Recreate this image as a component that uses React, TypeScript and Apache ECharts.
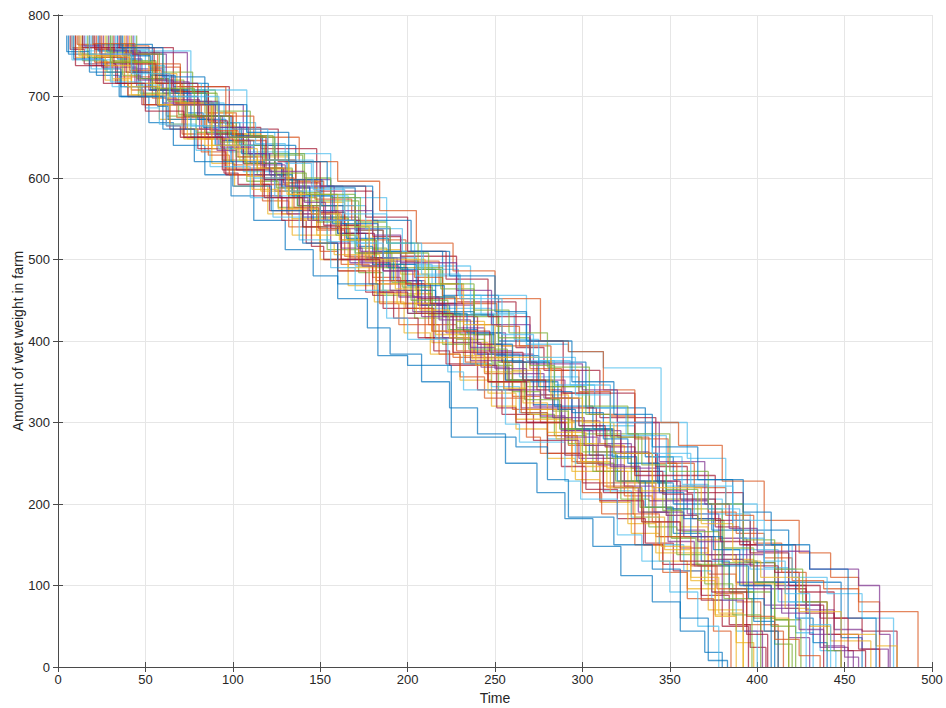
import React, { useEffect, useRef } from "react";
import * as echarts from "echarts";

// ---- Data ----
const xTicks = [0, 50, 100, 150, 200, 250, 300, 350, 400, 450, 500];
const yTicks = [0, 100, 200, 300, 400, 500, 600, 700, 800];
const START_LEVEL = 775;
const colors = ["#0072BD", "#D95319", "#EDB120", "#7E2F8E", "#77AC30", "#4DBEEE", "#A2142F"];

// each run: [time of drop, level after drop]
const run01 = [[6,752],[22,726],[35,700],[52,668],[66,640],[84,604],[99,578],[112,548],[130,512],[146,480],[160,452],[177,416],[190,384],[208,350],[224,318],[240,286],[256,250],[274,214],[290,182],[306,148],[322,112],[340,80],[356,44],[370,18],[380,0]];
const run02 = [[8,760],[38,712],[50,690],[82,632],[96,612],[128,556],[162,494],[178,470],[210,404],[226,380],[260,316],[294,252],[310,226],[342,160],[376,90],[392,52],[412,0]];
const run03 = [[10,748],[27,720],[40,702],[58,672],[72,648],[88,618],[101,590],[120,556],[134,530],[150,500],[166,468],[181,448],[198,410],[213,384],[230,352],[248,320],[262,292],[280,256],[296,230],[310,202],[328,164],[344,130],[360,96],[376,64],[388,30],[398,0]];
const run04 = [[12,762],[44,716],[60,692],[92,640],[124,584],[140,552],[172,498],[206,444],[222,410],[256,352],[290,290],[306,264],[338,204],[372,138],[388,104],[418,36],[430,0]];
const run05 = [[14,744],[28,730],[46,700],[62,676],[76,650],[94,622],[108,596],[126,564],[140,540],[154,512],[172,484],[186,456],[204,428],[220,396],[236,372],[252,340],[268,310],[284,284],[302,250],[318,220],[334,190],[350,160],[366,124],[384,92],[398,60],[410,28],[420,0]];
const run06 = [[16,756],[50,708],[84,656],[98,632],[132,578],[166,520],[182,494],[214,440],[248,384],[264,356],[298,296],[330,240],[348,206],[380,144],[412,80],[436,20],[445,0]];
const run07 = [[18,738],[34,716],[48,690],[64,660],[80,636],[96,604],[112,578],[128,548],[142,520],[160,486],[176,460],[192,428],[206,404],[222,372],[240,340],[254,310],[272,278],[288,246],[302,218],[320,182],[336,152],[352,118],[368,88],[384,52],[396,24],[405,0]];
const run08 = [[20,764],[54,716],[86,668],[104,640],[136,588],[170,536],[186,510],[220,456],[252,400],[270,374],[302,318],[336,258],[352,230],[386,168],[418,104],[448,36],[460,0]];
const run09 = [[22,750],[36,724],[54,698],[68,674],[84,648],[100,616],[116,592],[132,562],[148,536],[164,504],[180,478],[196,446],[212,420],[228,388],[244,360],[260,332],[276,300],[292,272],[308,240],[324,210],[340,178],[356,146],[372,114],[388,80],[402,44],[415,0]];
const run10 = [[24,742],[56,690],[88,636],[102,610],[134,550],[166,490],[182,458],[214,398],[246,336],[262,304],[294,240],[326,176],[342,140],[372,70],[392,0]];
const run11 = [[26,760],[42,734],[60,704],[76,676],[94,646],[110,618],[128,588],[144,560],[160,532],[178,502],[194,474],[210,446],[228,416],[244,388],[260,360],[278,330],[294,302],[310,274],[328,244],[344,216],[360,188],[378,158],[394,128],[410,100],[428,70],[444,46],[460,22],[475,0]];
const run12 = [[28,754],[58,708],[90,654],[108,628],[140,572],[172,514],[188,490],[220,432],[252,374],[268,344],[300,286],[332,226],[348,194],[380,128],[410,58],[425,0]];
const run13 = [[30,740],[46,714],[60,690],[76,664],[92,636],[106,608],[124,578],[138,552],[154,522],[170,492],[186,462],[200,434],[216,404],[232,372],[248,344],[264,312],[280,280],[296,250],[312,216],[328,184],[344,150],[358,118],[374,82],[388,44],[400,0]];
const run14 = [[32,760],[66,712],[98,662],[116,636],[148,584],[180,528],[196,504],[228,448],[262,392],[278,364],[310,306],[342,246],[360,214],[392,150],[422,76],[438,0]];
const run15 = [[34,746],[48,722],[64,700],[80,672],[96,646],[112,618],[128,590],[144,560],[160,532],[176,502],[192,474],[208,444],[224,414],[240,384],[256,352],[272,322],[288,292],[304,260],[320,228],[336,196],[352,164],[368,130],[384,96],[398,56],[410,0]];
const run16 = [[36,762],[52,736],[70,706],[86,680],[102,652],[120,622],[136,596],[152,566],[170,536],[186,508],[204,478],[220,452],[238,420],[254,394],[270,366],[288,336],[304,310],[320,282],[338,250],[354,222],[372,190],[388,164],[404,134],[420,106],[438,96],[458,68],[492,0]];
const run17 = [[38,752],[52,728],[68,706],[84,680],[100,654],[116,626],[132,598],[148,570],[164,542],[180,512],[196,482],[212,454],[228,424],[244,394],[260,364],[276,334],[292,302],[308,272],[324,240],[340,206],[356,172],[372,138],[388,102],[404,60],[418,0]];
const run18 = [[40,754],[74,690],[106,630],[124,598],[156,538],[190,474],[206,444],[238,384],[272,320],[288,290],[322,228],[354,168],[370,138],[404,76],[436,24],[452,0]];
const run19 = [[42,744],[56,720],[72,694],[88,668],[102,640],[118,612],[134,582],[150,552],[166,524],[182,494],[198,462],[212,432],[228,402],[244,370],[260,338],[276,306],[292,274],[306,240],[322,206],[338,172],[354,138],[370,102],[386,64],[402,0]];
const run20 = [[44,756],[76,708],[108,656],[124,630],[156,576],[188,520],[204,492],[236,434],[268,376],[284,346],[316,284],[348,222],[364,188],[396,120],[422,42],[432,0]];
const run21 = [[7,758],[15,740],[33,716],[40,700],[62,664],[70,650],[95,606],[103,592],[121,560],[145,516],[152,500],[180,456],[186,440],[215,388],[224,370],[251,318],[262,300],[280,262],[300,226],[310,204],[335,150],[346,126],[368,82],[380,50],[395,0]];
const run22 = [[9,746],[26,734],[36,712],[57,688],[63,672],[90,640],[99,620],[118,598],[137,566],[146,548],[171,516],[180,494],[205,462],[216,436],[238,408],[250,382],[275,344],[284,320],[306,292],[318,262],[343,226],[352,200],[374,168],[392,130],[400,104],[422,60],[432,30],[440,0]];
const run23 = [[11,764],[21,742],[42,708],[49,690],[71,654],[86,628],[98,604],[117,572],[132,540],[150,510],[160,486],[184,446],[195,420],[218,384],[230,356],[244,330],[268,282],[276,262],[300,214],[311,188],[330,150],[346,116],[360,84],[375,44],[385,0]];
const run24 = [[13,752],[31,722],[42,702],[64,666],[74,648],[97,610],[111,586],[126,562],[150,520],[158,506],[184,462],[194,446],[216,408],[232,382],[244,362],[266,324],[280,300],[296,274],[314,244],[330,216],[348,186],[366,156],[380,132],[398,102],[416,72],[430,50],[442,32],[465,0]];
const run25 = [[15,762],[25,736],[45,712],[56,690],[73,660],[91,634],[102,610],[122,576],[131,556],[156,520],[167,496],[190,462],[203,436],[220,404],[236,376],[255,340],[265,318],[288,278],[298,256],[318,220],[332,190],[349,154],[364,124],[380,82],[392,44],[403,0]];
const run26 = [[17,748],[37,726],[47,704],[69,678],[79,656],[102,626],[114,604],[132,576],[148,546],[162,524],[182,490],[197,466],[214,434],[230,408],[248,374],[258,352],[283,314],[292,292],[314,256],[328,228],[346,192],[357,166],[378,126],[394,92],[408,50],[422,0]];
const run27 = [[19,734],[31,712],[50,686],[58,666],[79,634],[87,614],[110,576],[123,552],[138,524],[156,490],[170,462],[188,428],[200,402],[223,362],[232,340],[256,298],[264,276],[290,228],[299,206],[320,162],[334,130],[350,92],[366,50],[378,0]];
const run28 = [[21,758],[39,730],[52,708],[72,676],[85,654],[106,618],[118,598],[138,566],[152,542],[172,508],[186,486],[206,452],[220,430],[240,396],[254,374],[274,340],[288,318],[308,284],[322,262],[342,228],[356,206],[376,172],[390,150],[410,116],[424,92],[444,60],[460,44],[480,0]];
const run29 = [[23,756],[43,730],[53,708],[74,680],[83,662],[105,630],[121,604],[134,578],[157,544],[165,526],[189,490],[200,468],[221,434],[234,410],[254,376],[266,350],[286,316],[296,292],[317,258],[331,228],[348,194],[362,160],[380,124],[395,84],[404,44],[412,0]];
const run30 = [[25,748],[41,732],[59,710],[67,692],[89,668],[100,646],[119,622],[136,598],[147,574],[168,548],[183,524],[199,498],[218,470],[231,446],[251,418],[264,394],[282,364],[298,338],[316,308],[330,280],[349,250],[364,220],[382,186],[398,152],[414,116],[428,80],[440,40],[448,0]];
const run31 = [[27,738],[42,716],[57,690],[74,660],[84,640],[108,602],[116,584],[139,548],[148,530],[172,492],[182,470],[205,434],[214,412],[239,370],[248,350],[270,310],[280,288],[302,246],[314,220],[334,178],[345,148],[362,106],[376,62],[388,0]];
const run32 = [[29,756],[47,722],[62,696],[81,660],[93,638],[112,604],[127,576],[143,548],[162,514],[174,492],[195,454],[208,430],[226,398],[242,368],[258,340],[276,308],[290,282],[309,248],[324,222],[341,190],[358,160],[374,132],[392,100],[408,72],[424,46],[438,26],[450,12],[458,0]];
const run33 = [[31,744],[45,722],[63,694],[73,676],[93,644],[107,618],[125,588],[137,566],[159,530],[170,508],[191,472],[202,450],[223,414],[235,390],[257,352],[267,328],[287,292],[300,264],[319,228],[333,196],[351,158],[365,126],[381,84],[397,0]];
const run34 = [[33,758],[52,738],[61,716],[82,692],[95,668],[113,642],[130,618],[145,590],[163,566],[176,538],[197,510],[209,488],[229,456],[242,432],[261,402],[275,376],[293,346],[307,318],[325,286],[340,258],[357,224],[372,194],[390,158],[404,122],[418,80],[428,0]];
const run35 = [[35,760],[55,726],[65,706],[86,670],[97,650],[119,612],[129,594],[150,558],[164,532],[181,502],[199,470],[213,446],[232,412],[247,386],[266,352],[279,330],[298,296],[313,270],[330,240],[346,212],[363,182],[379,154],[396,124],[412,96],[428,66],[444,40],[458,22],[470,0]];
const run36 = [[37,750],[53,726],[67,704],[85,676],[99,652],[117,622],[131,598],[151,566],[163,544],[183,510],[196,488],[216,454],[227,432],[249,396],[260,374],[281,338],[294,312],[312,280],[326,250],[344,214],[358,182],[375,144],[390,100],[408,0]];
const run37 = [[39,752],[57,716],[71,690],[87,658],[103,626],[117,600],[135,564],[149,538],[167,502],[182,474],[199,440],[214,412],[233,374],[246,350],[265,312],[280,284],[297,250],[312,222],[329,188],[344,160],[362,124],[377,96],[394,62],[410,34],[424,14],[436,0]];
const run38 = [[41,742],[55,716],[70,692],[85,664],[101,636],[114,612],[131,580],[145,556],[161,524],[176,498],[193,464],[207,438],[224,404],[237,378],[255,342],[268,316],[285,280],[299,252],[316,214],[330,184],[347,144],[362,110],[378,66],[392,0]];
const run39 = [[43,752],[62,718],[75,694],[92,662],[109,630],[121,608],[141,570],[153,548],[173,510],[186,486],[203,454],[218,426],[236,392],[250,366],[268,334],[283,306],[301,272],[316,246],[333,214],[348,186],[366,154],[381,126],[398,96],[414,66],[430,40],[444,20],[455,0]];
const run40 = [[45,752],[60,730],[77,704],[91,682],[110,652],[123,630],[141,600],[156,576],[173,546],[188,520],[206,488],[219,464],[238,430],[252,404],[270,370],[284,344],[302,310],[316,282],[334,248],[348,218],[366,180],[381,146],[398,104],[410,58],[418,0]];
const run41 = [[8,745],[30,718],[48,700],[62,664],[90,640],[112,600],[130,584],[150,548],[170,520],[186,502],[205,480],[230,456],[268,396],[292,387],[312,367],[345,300],[360,256],[382,200],[400,150],[420,110],[440,90],[460,60],[478,0]];
const run42 = [[14,760],[32,740],[56,716],[80,676],[100,660],[126,620],[150,590],[176,552],[200,510],[222,476],[246,430],[270,400],[289,336],[330,235],[376,180],[396,140],[418,100],[436,60],[452,20],[462,0]];
const run43 = [[5,755],[18,730],[36,700],[60,660],[78,620],[100,590],[122,560],[140,520],[160,470],[183,382],[200,370],[225,282],[262,270],[280,230],[292,184],[318,150],[340,120],[356,60],[372,8],[383,0]];
const run44 = [[20,765],[44,740],[70,712],[96,676],[112,650],[138,620],[160,596],[184,560],[205,520],[226,486],[250,452],[276,400],[292,387],[312,340],[330,300],[355,272],[380,228],[404,180],[424,140],[442,110],[458,80],[470,0]];
const run45 = [[12,750],[40,712],[58,690],[88,640],[104,622],[132,580],[160,540],[178,500],[210,470],[232,420],[250,380],[282,330],[300,300],[318,262],[340,220],[368,176],[386,130],[402,110],[424,68],[448,40],[468,26],[480,0]];
const run46 = [[24,752],[46,720],[66,690],[90,650],[116,616],[130,590],[158,560],[180,530],[196,496],[228,462],[248,420],[270,372],[300,340],[320,300],[344,252],[370,200],[384,170],[400,142],[430,120],[458,100],[470,40],[476,0]];
const run47 = [[30,742],[54,710],[78,676],[98,650],[124,606],[142,580],[170,540],[190,508],[212,470],[238,438],[258,410],[280,368],[304,320],[326,286],[350,240],[372,200],[392,156],[410,120],[426,80],[440,20],[448,0]];
const run48 = [[18,752],[42,728],[64,700],[92,660],[120,622],[146,586],[164,556],[188,520],[208,482],[230,452],[254,408],[272,380],[296,334],[316,300],[340,262],[362,222],[386,180],[404,130],[416,90],[430,52],[442,0]];
const run49 = [[10,738],[26,716],[50,682],[72,650],[94,610],[118,576],[140,540],[162,500],[184,460],[200,434],[226,386],[246,350],[268,300],[290,260],[312,214],[334,178],[356,130],[374,92],[394,40],[406,0]];
const run50 = [[36,760],[60,724],[84,690],[108,656],[132,620],[154,590],[180,548],[202,510],[224,480],[250,436],[268,400],[294,350],[318,310],[340,270],[366,230],[392,190],[408,150],[430,120],[452,60],[468,0]];

const runs = [run01, run02, run03, run04, run05, run06, run07, run08, run09, run10,
  run11, run12, run13, run14, run15, run16, run17, run18, run19, run20,
  run21, run22, run23, run24, run25, run26, run27, run28, run29, run30,
  run31, run32, run33, run34, run35, run36, run37, run38, run39, run40,
  run41, run42, run43, run44, run45, run46, run47, run48, run49, run50];

const FONT = "'Liberation Sans', Arial, Helvetica, sans-serif";

export default function App() {
  const ref = useRef<HTMLDivElement>(null);
  useEffect(() => {
    document.body.style.margin = "0";
    if (!ref.current) return;
    const chart = echarts.init(ref.current, null, { renderer: "svg" });
    const axisColor = "#4a4a4a";
    const series = runs.map((run, i) => ({
      type: "line",
      step: "end",
      showSymbol: false,
      symbol: "none",
      data: [[run[0][0], START_LEVEL], ...run],
      lineStyle: { color: colors[i % colors.length], width: 1.3, opacity: 0.7 },
      itemStyle: { color: colors[i % colors.length] },
      emphasis: { disabled: true },
      silent: true,
    }));
    chart.setOption({
      animation: false,
      backgroundColor: "#ffffff",
      textStyle: { fontFamily: FONT },
      grid: { left: 58, right: 14, top: 15, bottom: 41, containLabel: false, outerBoundsMode: "none" },
      xAxis: [
        {
          type: "value",
          min: xTicks[0],
          max: xTicks[xTicks.length - 1],
          interval: 50,
          name: "Time",
          nameLocation: "middle",
          nameGap: 24,
          nameMoveOverlap: false,
          nameTextStyle: { color: "#262626", fontSize: 14, fontFamily: FONT },
          axisLine: { show: true, lineStyle: { color: axisColor, width: 1 } },
          axisTick: { show: true, inside: true, length: 5, lineStyle: { color: axisColor } },
          axisLabel: { color: "#262626", fontSize: 13, margin: 6, fontFamily: FONT },
          splitLine: { show: true, lineStyle: { color: "#e6e6e6", width: 1 } },
        },
        {
          type: "value",
          position: "top",
          min: xTicks[0],
          max: xTicks[xTicks.length - 1],
          interval: 50,
          axisLine: { show: true, lineStyle: { color: axisColor, width: 1 } },
          axisTick: { show: true, inside: true, length: 5, lineStyle: { color: axisColor } },
          axisLabel: { show: false },
          splitLine: { show: false },
        },
      ],
      yAxis: [
        {
          type: "value",
          min: yTicks[0],
          max: yTicks[yTicks.length - 1],
          interval: 100,
          name: "Amount of wet weight in farm",
          nameLocation: "middle",
          nameGap: 33,
          nameMoveOverlap: false,
          nameTextStyle: { color: "#262626", fontSize: 14, fontFamily: FONT },
          axisLine: { show: true, lineStyle: { color: axisColor, width: 1 } },
          axisTick: { show: true, inside: true, length: 5, lineStyle: { color: axisColor } },
          axisLabel: { color: "#262626", fontSize: 13, margin: 8, fontFamily: FONT },
          splitLine: { show: true, lineStyle: { color: "#e6e6e6", width: 1 } },
        },
        {
          type: "value",
          position: "right",
          min: yTicks[0],
          max: yTicks[yTicks.length - 1],
          interval: 100,
          axisLine: { show: true, lineStyle: { color: axisColor, width: 1 } },
          axisTick: { show: true, inside: true, length: 5, lineStyle: { color: axisColor } },
          axisLabel: { show: false },
          splitLine: { show: false },
        },
      ],
      series,
    });
    return () => chart.dispose();
  }, []);
  return <div ref={ref} style={{ width: 946, height: 708 }} />;
}
